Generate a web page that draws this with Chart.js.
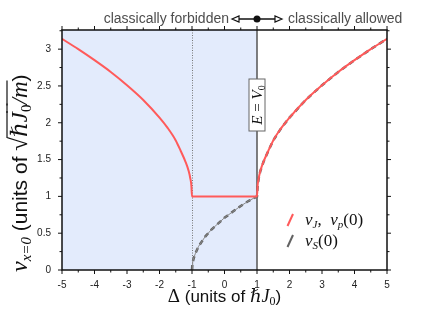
<!DOCTYPE html>
<html>
<head>
<meta charset="utf-8">
<script src="https://cdn.jsdelivr.net/npm/chart.js@4.4.1/dist/chart.umd.min.js"></script>
<style>
    html, body { margin: 0; padding: 0; background: #fff; }
    #wrap { width: 436px; height: 317px; }
</style>
</head>
<body>
<div id="wrap"><canvas id="chart" width="436" height="317"></canvas></div>
<script>
// Detuning (units of hbar J0) and velocities
const deltaLeft = [-5, -4.5, -4, -3.5, -3, -2.5, -2, -1.75, -1.5, -1.35, -1.2, -1.1, -1.05, -1.02, -1];
const vLeft = [3.14, 3.00, 2.85, 2.69, 2.51, 2.31, 2.07, 1.93, 1.76, 1.62, 1.47, 1.34, 1.24, 1.15, 1];

const deltaMid = [-1, 1];
const vMid = [1, 1];

const deltaRight = [1, 1.02, 1.05, 1.1, 1.2, 1.35, 1.5, 1.75, 2, 2.5, 3, 3.5, 4, 4.5, 5];
const vRight = [1, 1.15, 1.24, 1.34, 1.47, 1.62, 1.76, 1.93, 2.07, 2.31, 2.51, 2.69, 2.85, 3.00, 3.14];

const deltaS = [-1, -0.99, -0.97, -0.94, -0.9, -0.8, -0.6, -0.4, -0.2, 0, 0.25, 0.5, 0.75, 1];
const vS = [0, 0.07, 0.12, 0.17, 0.22, 0.32, 0.45, 0.55, 0.63, 0.71, 0.79, 0.87, 0.94, 1];

const xTickLabels = [-5, -4, -3, -2, -1, 0, 1, 2, 3, 4, 5];
const yTickLabels = [0, 0.5, 1, 1.5, 2, 2.5, 3];

const forbiddenFrom = -5;   // shaded region start
const forbiddenTo = 1;      // E = V0
const bandEdge = -1;        // dotted line

const RED = '#ff5a5a';
const GRAY = '#626262';
const SANS = "'Liberation Sans', Arial, sans-serif";
const SERIF = "'Liberation Serif', 'DejaVu Serif', serif";

function points(xs, ys) {
    return xs.map((x, i) => ({ x: x, y: ys[i] }));
}

// draw a run of text pieces with different fonts, centred on (x, y) or starting at x
function drawRich(ctx, parts, x, y, fromStart) {
    let total = 0;
    parts.forEach(p => { ctx.font = p.f; p.w = ctx.measureText(p.t).width; total += p.w; });
    let cx = fromStart ? x : x - total / 2;
    ctx.textBaseline = 'alphabetic';
    ctx.textAlign = 'left';
    parts.forEach(p => {
        ctx.font = p.f;
        ctx.fillText(p.t, cx, y + (p.dy || 0));
        if (p.over) {
            ctx.save();
            ctx.lineWidth = 1.2;
            ctx.strokeStyle = ctx.fillStyle;
            ctx.beginPath();
            ctx.moveTo(cx - 1, y - p.over);
            ctx.lineTo(cx + p.w + 1, y - p.over);
            ctx.stroke();
            ctx.restore();
        }
        cx += p.w;
    });
    return total;
}

// shaded forbidden region + vertical guide lines
const backdropPlugin = {
    id: 'backdrop',
    beforeDatasetsDraw(chart) {
        const { ctx, chartArea: a, scales: { x } } = chart;
        ctx.save();
        ctx.fillStyle = '#e3ebfc';
        const x0 = x.getPixelForValue(forbiddenFrom);
        const x1 = x.getPixelForValue(forbiddenTo);
        ctx.fillRect(x0, a.top, x1 - x0, a.bottom - a.top);

        ctx.strokeStyle = '#777';
        ctx.lineWidth = 1;
        ctx.setLineDash([1, 1.5]);
        const xb = Math.round(x.getPixelForValue(bandEdge)) + 0.5;
        ctx.beginPath();
        ctx.moveTo(xb, a.top);
        ctx.lineTo(xb, a.bottom);
        ctx.stroke();

        ctx.setLineDash([]);
        ctx.strokeStyle = '#555';
        ctx.lineWidth = 1.5;
        ctx.beginPath();
        ctx.moveTo(x1, a.top);
        ctx.lineTo(x1, a.bottom);
        ctx.stroke();
        ctx.restore();
    }
};

// frame, ticks, annotations, axis titles and legend
const decorPlugin = {
    id: 'decor',
    afterDraw(chart) {
        const { ctx, chartArea: a, scales: { x, y } } = chart;
        ctx.save();

        // E = V0 label box
        const xe = x.getPixelForValue(forbiddenTo);
        ctx.save();
        ctx.translate(xe, 105);
        ctx.rotate(-Math.PI / 2);
        ctx.fillStyle = '#fff';
        ctx.fillRect(-26, -8, 52, 16);
        ctx.strokeStyle = '#666';
        ctx.lineWidth = 1;
        ctx.strokeRect(-26, -8, 52, 16);
        ctx.fillStyle = '#111';
        drawRich(ctx, [
            { t: 'E', f: 'italic 15px ' + SERIF },
            { t: ' = ', f: '15px ' + SERIF },
            { t: 'V', f: 'italic 15px ' + SERIF },
            { t: '0', f: '10px ' + SERIF, dy: 3 }
        ], 0, 5);
        ctx.restore();

        // frame
        ctx.strokeStyle = '#111';
        ctx.lineWidth = 1.5;
        ctx.strokeRect(a.left, a.top, a.right - a.left, a.bottom - a.top);

        // ticks (outward), major + minor
        ctx.lineWidth = 1;
        ctx.beginPath();
        for (let v = xTickLabels[0]; v <= xTickLabels[xTickLabels.length - 1] + 1e-9; v += 0.5) {
            const px = x.getPixelForValue(v);
            const len = Number.isInteger(v) ? 4 : 2.5;
            ctx.moveTo(px, a.bottom); ctx.lineTo(px, a.bottom + len);
            ctx.moveTo(px, a.top); ctx.lineTo(px, a.top - len);
        }
        for (let v = 0; v <= y.max; v += 0.25) {
            const py = y.getPixelForValue(v);
            const len = (v * 2) % 1 === 0 ? 4 : 2.5;
            ctx.moveTo(a.left, py); ctx.lineTo(a.left - len, py);
            ctx.moveTo(a.right, py); ctx.lineTo(a.right + len, py);
        }
        ctx.stroke();

        // top annotation
        const xm = x.getPixelForValue(forbiddenTo);
        const ya = 19;
        ctx.fillStyle = '#4d4d4d';
        ctx.font = '14px ' + SANS;
        ctx.textBaseline = 'middle';
        ctx.textAlign = 'right';
        ctx.fillText('classically forbidden', xm - 28, ya);
        ctx.textAlign = 'left';
        ctx.fillText('classically allowed', xm + 31, ya);
        ctx.strokeStyle = '#111';
        ctx.lineWidth = 1.5;
        ctx.beginPath();
        ctx.moveTo(xm - 19, ya); ctx.lineTo(xm + 19, ya);
        ctx.stroke();
        ctx.lineWidth = 1.2;
        ctx.fillStyle = '#fff';
        [[-1], [1]].forEach(([s]) => {
            ctx.beginPath();
            ctx.moveTo(xm + s * 25, ya);
            ctx.lineTo(xm + s * 18, ya - 3);
            ctx.lineTo(xm + s * 18, ya + 3);
            ctx.closePath();
            ctx.fill();
            ctx.stroke();
        });
        ctx.fillStyle = '#111';
        ctx.beginPath();
        ctx.arc(xm, ya, 3.5, 0, Math.PI * 2);
        ctx.fill();

        // x axis title
        ctx.fillStyle = '#111';
        drawRich(ctx, [
            { t: 'Δ', f: '19px ' + SERIF },
            { t: ' (units of ', f: '17px ' + SANS },
            { t: 'ℏJ', f: 'italic 18px ' + SERIF },
            { t: '0', f: '12px ' + SERIF, dy: 3 },
            { t: ')', f: '17px ' + SANS }
        ], (a.left + a.right) / 2, 302);

        // y axis title, running upward from the bottom of the plot
        ctx.save();
        ctx.translate(27, 272);
        ctx.rotate(-Math.PI / 2);
        drawRich(ctx, [
            { t: 'v', f: 'italic 24px ' + SERIF },
            { t: 'x=0', f: 'italic 15px ' + SERIF, dy: 4 },
            { t: ' (units of ', f: '21px ' + SANS },
            { t: '√', f: '25px ' + SERIF },
            { t: 'ℏJ', f: 'italic 23px ' + SERIF, over: 20 },
            { t: '0', f: '15px ' + SERIF, dy: 4, over: 20 },
            { t: '/m', f: 'italic 23px ' + SERIF, over: 20 },
            { t: ')', f: '21px ' + SANS }
        ], 0, 0, true);
        ctx.restore();

        // legend
        const legend = [
            { color: RED, parts: [
                { t: 'v', f: 'italic 17px ' + SERIF },
                { t: 'J', f: 'italic 11px ' + SERIF, dy: 3 },
                { t: ',  ', f: '17px ' + SERIF },
                { t: 'v', f: 'italic 17px ' + SERIF },
                { t: 'p', f: 'italic 11px ' + SERIF, dy: 3 },
                { t: '(0)', f: '17px ' + SERIF }
            ] },
            { color: GRAY, parts: [
                { t: 'v', f: 'italic 17px ' + SERIF },
                { t: 'S', f: 'italic 11px ' + SERIF, dy: 3 },
                { t: '(0)', f: '17px ' + SERIF }
            ] }
        ];
        legend.forEach((item, i) => {
            const cy = 220 + i * 21;
            ctx.strokeStyle = item.color;
            ctx.lineWidth = 2;
            ctx.beginPath();
            ctx.moveTo(287.5, cy + 6);
            ctx.lineTo(293, cy - 6);
            ctx.stroke();
            ctx.fillStyle = '#111';
            drawRich(ctx, item.parts, 305, cy + 5, true);
        });

        ctx.restore();
    }
};

const redData = points(deltaLeft, vLeft).concat(points(deltaMid, vMid), points(deltaRight, vRight));
const grayData = points(deltaS, vS).concat(points(deltaRight, vRight));

new Chart(document.getElementById('chart'), {
    type: 'scatter',
    data: {
        datasets: [
            {
                label: 'v_J, v_p(0)',
                data: redData,
                showLine: true,
                borderColor: RED,
                borderWidth: 2,
                pointRadius: 0,
                cubicInterpolationMode: 'monotone'
            },
            {
                label: 'v_S(0) guide',
                data: points(deltaS, vS),
                showLine: true,
                borderColor: '#888',
                borderWidth: 1,
                pointRadius: 0
            },
            {
                label: 'v_S(0)',
                data: grayData,
                showLine: true,
                borderColor: GRAY,
                borderWidth: 2.5,
                borderDash: [5, 4],
                pointRadius: 0
            }
        ]
    },
    options: {
        responsive: false,
        animation: false,
        layout: { padding: { left: 0, top: 30, right: 49, bottom: 0 } },
        plugins: { legend: { display: false }, tooltip: { enabled: false } },
        scales: {
            x: {
                type: 'linear',
                min: -5,
                max: 5,
                afterBuildTicks: s => { s.ticks = xTickLabels.map(v => ({ value: v })); },
                afterFit: s => { s.height = 47; },
                grid: { display: false, drawTicks: false },
                border: { display: false },
                ticks: { color: '#222', padding: 9, font: { family: SANS, size: 10 }, maxRotation: 0,
                         callback: v => String(v) }
            },
            y: {
                type: 'linear',
                min: 0,
                max: 3.26,
                afterBuildTicks: s => { s.ticks = yTickLabels.map(v => ({ value: v })); },
                afterFit: s => { s.width = 62; },
                grid: { display: false, drawTicks: false },
                border: { display: false },
                ticks: { color: '#222', padding: 11, font: { family: SANS, size: 10 },
                         callback: v => String(v) }
            }
        }
    },
    plugins: [backdropPlugin, decorPlugin]
});
</script>
</body>
</html>
